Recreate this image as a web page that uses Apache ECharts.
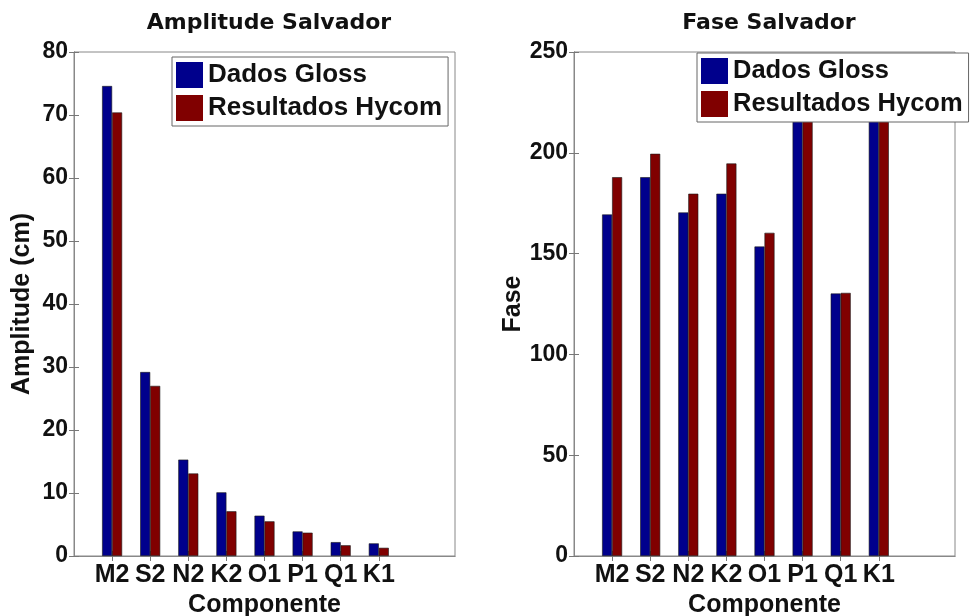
<!DOCTYPE html>
<html>
<head>
<meta charset="utf-8">
<title>Amplitude e Fase Salvador</title>
<script src="https://cdn.jsdelivr.net/npm/echarts@6/dist/echarts.min.js"></script>
<style>
  html, body { margin: 0; padding: 0; background: #fff; }
  #chart { width: 977px; height: 616px; }
</style>
</head>
<body>
<div id="chart"></div>
<script>
// componentes de maré
const componentes = ['M2', 'S2', 'N2', 'K2', 'O1', 'P1', 'Q1', 'K1']
const posicoes = [1, 2, 3, 4, 5, 6, 7, 8]

// amplitude (cm)
const ampGloss = [74.6, 29.2, 15.3, 10.1, 6.4, 3.9, 2.2, 2.0]
const ampHycom = [70.4, 27.0, 13.1, 7.1, 5.5, 3.7, 1.7, 1.3]

// fase (graus) - P1 e K1 ficam atras da legenda
const faseGloss = [169.4, 187.9, 170.4, 179.7, 153.5, 249, 130.2, 232]
const faseHycom = [187.9, 199.5, 179.7, 194.7, 160.3, 249, 130.5, 232]

const FONT = "'Liberation Sans', Arial, sans-serif"
const FONT_LARGA = "'DejaVu Sans', sans-serif"
const AZUL = '#00008c'
const VERMELHO = '#800000'

const pares = vals => vals.map((v, i) => [posicoes[i], v])

function eixoX(grid, top) {
  return {
    type: 'value',
    gridIndex: grid,
    position: top ? 'top' : 'bottom',
    min: 0,
    max: 10,
    interval: 1,
    name: top ? '' : 'Componente',
    nameLocation: 'middle',
    nameGap: 31,
    nameTextStyle: { fontFamily: FONT, fontWeight: 'bold', fontSize: 25, color: '#111' },
    axisLine: { show: true, lineStyle: { color: '#888', width: 1 } },
    axisTick: { show: true, inside: true, length: 5, lineStyle: { color: '#777' }, customValues: posicoes },
    splitLine: { show: false },
    axisLabel: {
      show: !top,
      customValues: posicoes,
      formatter: v => componentes[v - 1] || '',
      margin: 7,
      fontFamily: FONT,
      fontWeight: 'bold',
      fontSize: 25,
      color: '#111'
    }
  }
}

function eixoY(grid, max, interval, nome, gap, direita) {
  return {
    type: 'value',
    gridIndex: grid,
    position: direita ? 'right' : 'left',
    min: 0,
    max: max,
    interval: interval,
    name: direita ? '' : nome,
    nameLocation: 'middle',
    nameGap: gap,
    nameRotate: 90,
    nameTextStyle: { fontFamily: FONT, fontWeight: 'bold', fontSize: 25, color: '#111' },
    axisLine: { show: true, lineStyle: { color: '#888', width: 1 } },
    axisTick: { show: true, inside: true, length: 5, lineStyle: { color: '#777' } },
    splitLine: { show: false },
    axisLabel: {
      show: !direita,
      margin: 6,
      fontFamily: FONT,
      fontWeight: 'bold',
      fontSize: 23,
      color: '#111'
    }
  }
}

function barras(nome, cor, vals, eixo) {
  return {
    name: nome,
    type: 'bar',
    xAxisIndex: eixo * 2,
    yAxisIndex: eixo * 2,
    data: pares(vals),
    barWidth: 10,
    barGap: '0%',
    itemStyle: { color: cor, borderColor: '#1a1a1a', borderWidth: 0.6 },
    animation: false
  }
}

function legenda(left, top, tam) {
  return {
    left: left,
    top: top,
    orient: 'vertical',
    icon: 'rect',
    itemWidth: 27,
    itemHeight: 26,
    itemGap: 7,
    padding: [5, 6, 5, 4],
    backgroundColor: '#fff',
    borderColor: '#666',
    borderWidth: 1,
    borderRadius: 0,
    data: ['Dados Gloss', 'Resultados Hycom'],
    textStyle: { fontFamily: FONT, fontWeight: 'bold', fontSize: tam, color: '#111', padding: [0, 0, 0, 0] },
    itemStyle: { borderWidth: 0 }
  }
}

const chart = echarts.init(document.getElementById('chart'))

chart.setOption({
  backgroundColor: '#fff',
  title: [
    { text: 'Amplitude Salvador', left: 264, top: 7, textAlign: 'center',
      textStyle: { fontFamily: FONT_LARGA, fontWeight: 'bold', fontSize: 22, color: '#111' } },
    { text: 'Fase Salvador', left: 764, top: 7, textAlign: 'center',
      textStyle: { fontFamily: FONT_LARGA, fontWeight: 'bold', fontSize: 22, color: '#111' } }
  ],
  legend: [legenda(172, 57, 26), legenda(697, 53, 25.5)],
  grid: [
    { left: 74, top: 52, width: 381, height: 504, outerBoundsMode: 'none', containLabel: false,
      show: true, borderColor: '#888', borderWidth: 1, backgroundColor: '#fff' },
    { left: 574, top: 52, width: 381, height: 504, outerBoundsMode: 'none', containLabel: false,
      show: true, borderColor: '#888', borderWidth: 1, backgroundColor: '#fff' }
  ],
  xAxis: [eixoX(0, false), eixoX(0, true), eixoX(1, false), eixoX(1, true)],
  yAxis: [
    eixoY(0, 80, 10, 'Amplitude (cm)', 39, false),
    eixoY(0, 80, 10, '', 0, true),
    eixoY(1, 250, 50, 'Fase', 33, false),
    eixoY(1, 250, 50, '', 0, true)
  ],
  series: [
    barras('Dados Gloss', AZUL, ampGloss, 0),
    barras('Resultados Hycom', VERMELHO, ampHycom, 0),
    barras('Dados Gloss', AZUL, faseGloss, 1),
    barras('Resultados Hycom', VERMELHO, faseHycom, 1)
  ]
})
</script>
</body>
</html>
